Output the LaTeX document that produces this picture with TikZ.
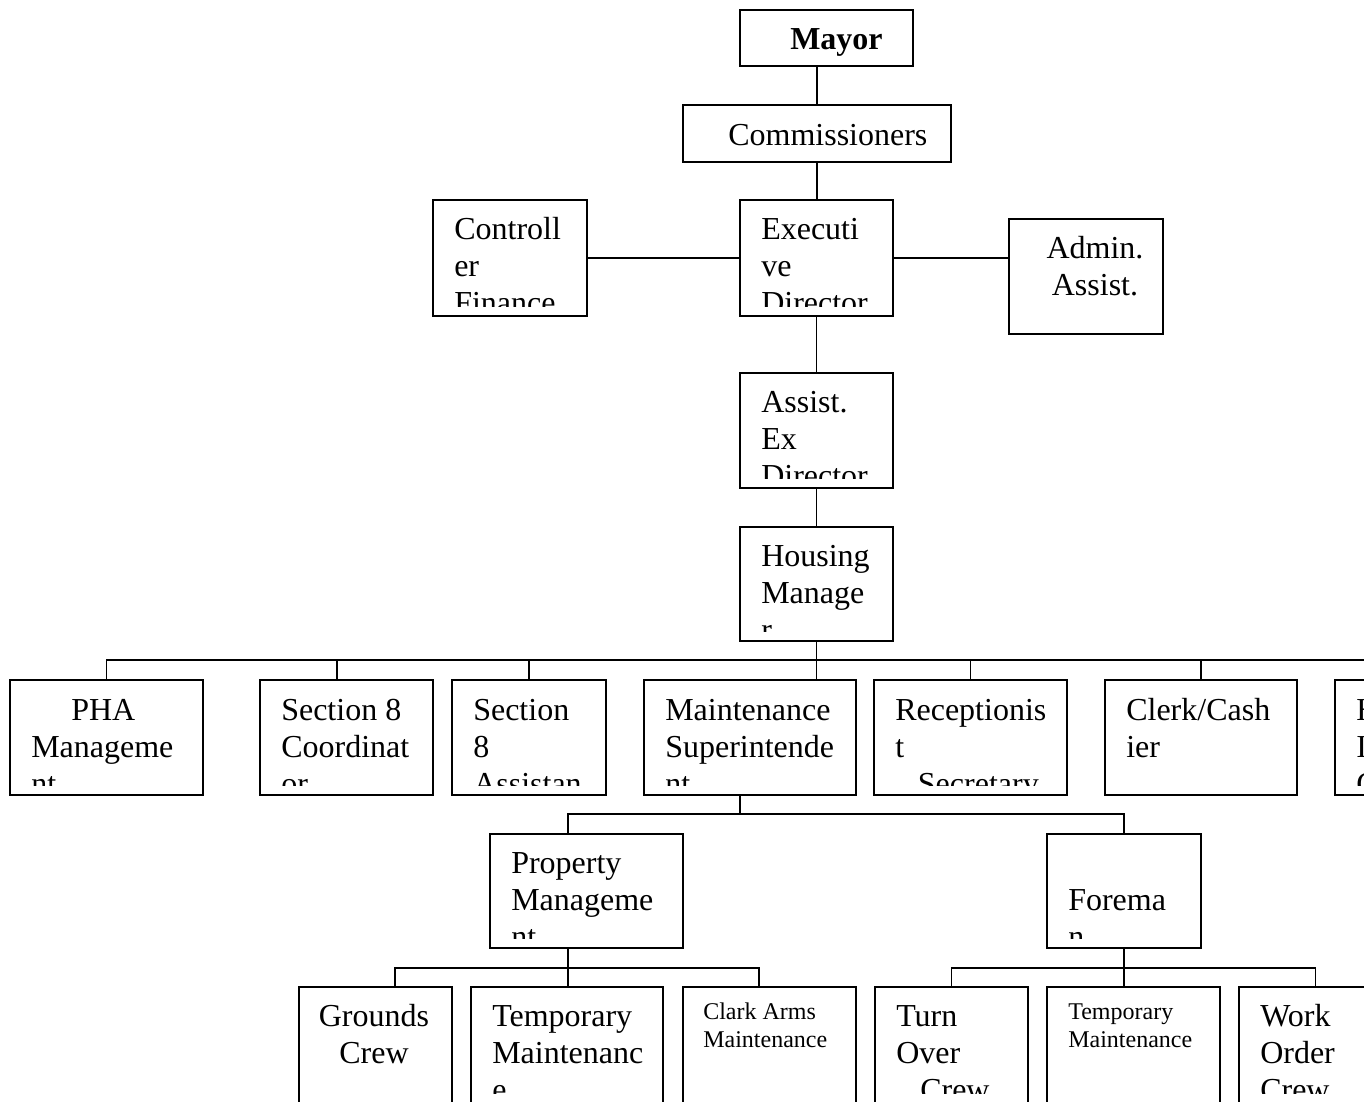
\documentclass[tikz,border=0pt]{standalone}
\usepackage{fontspec}
\setmainfont{Liberation Serif}
\begin{document}
\begin{tikzpicture}[x=0.75pt,y=-0.75pt,
		card/.style={draw,line width=1.2pt,inner sep=0pt,outer sep=0pt},
		link/.style={line width=1.2pt}]
		\newcommand{\orgfontbig}{\fontsize{24}{27.75}\selectfont}
		\newcommand{\orgfontsmall}{\fontsize{18}{21}\selectfont}
		\newcommand{\lefttext}[1]{\begin{tabular}[t]{@{}l@{}}#1\end{tabular}}
		\newcommand{\midtext}[1]{\begin{tabular}[t]{@{}c@{}}#1\end{tabular}}
		%box: name, x1, y1, x2, y2, text dx, baseline dy, text options, text
		\newcommand{\orgcard}[9]{
			\node [card,minimum width={(#4-#2)*0.75pt},minimum height={(#5-#3)*0.75pt}] (#1) at ({(#2+#4)/2},{(#3+#5)/2}) {};
			\begin{scope}
				\clip ({#2+10},{#3+9}) rectangle ({#4-10},{#5-10});
				\node [inner sep=0pt,anchor=base west,font=\orgfontbig,#8] at ({#2+#6},{#3+#7}) {#9};
			\end{scope}
		}
		%Page
		\useasboundingbox (0,0) rectangle (1364,1101);
		\clip (0,0) rectangle (1364,1101);
		%Top of the chart
		\orgcard{mayor}{740}{10}{913}{66}{50}{39}{}{\textbf{Mayor}}
		\orgcard{comm}{683}{105}{951}{162}{45}{40}{}{Commissioners}
		\orgcard{ctrl}{433}{200}{587}{316}{21}{39}{}{\lefttext{Controll\\er\\Finance}}
		\orgcard{exec}{740}{200}{893}{316}{21}{39}{}{\lefttext{Executi\\ve\\Director}}
		\orgcard{admin}{1009}{219}{1163}{334}{86}{39}{anchor=base}{\midtext{Admin.\\Assist.}}
		\orgcard{aed}{740}{373}{893}{488}{21}{39}{}{\lefttext{Assist.\\Ex\\Director}}
		\orgcard{hman}{740}{527}{893}{641}{21}{39}{}{\lefttext{Housing\\Manage\\r}}
		%Staff row
		\orgcard{pha}{10}{680}{203}{795}{21}{40}{}{\lefttext{\hspace*{30pt}PHA\\Manageme\\nt}}
		\orgcard{scoord}{260}{680}{433}{795}{21}{40}{}{\lefttext{Section 8\\Coordinat\\or}}
		\orgcard{sassist}{452}{680}{606}{795}{21}{40}{}{\lefttext{Section\\8\\Assistan}}
		\orgcard{msup}{644}{680}{856}{795}{21}{40}{}{\lefttext{Maintenance\\Superintende\\nt}}
		\orgcard{recep}{874}{680}{1067}{795}{21}{40}{}{\lefttext{Receptionis\\t\\\hspace*{17pt}Secretary}}
		\orgcard{clerk}{1105}{680}{1297}{795}{21}{40}{}{\lefttext{Clerk/Cash\\ier}}
		\orgcard{hinsp}{1335}{680}{1528}{795}{21}{40}{}{\lefttext{H\\I\\C}}
		%Maintenance row
		\orgcard{pmgmt}{490}{834}{683}{948}{21}{39}{}{\lefttext{Property\\Manageme\\nt}}
		\orgcard{foreman}{1047}{834}{1201}{948}{21}{39}{}{\lefttext{\\Forema\\n}}
		%Crews
		\orgcard{grounds}{299}{987}{452}{1103}{75}{39}{anchor=base}{\midtext{Grounds\\Crew}}
		\orgcard{tmaint}{471}{987}{663}{1103}{21}{39}{}{\lefttext{Temporary\\Maintenanc\\e}}
		\orgcard{clark}{683}{987}{856}{1103}{20}{32}{font=\orgfontsmall}{\lefttext{Clark Arms\\Maintenance}}
		\orgcard{turnover}{875}{987}{1028}{1103}{21}{39}{}{\lefttext{Turn\\Over\\\hspace*{18pt}Crew}}
		\orgcard{tmaint2}{1047}{987}{1220}{1103}{21}{32}{font=\orgfontsmall}{\lefttext{Temporary\\Maintenance}}
		\orgcard{workorder}{1239}{987}{1392}{1103}{21}{39}{}{\lefttext{Work\\Order\\Crew}}
		%Top chain
		\draw [link] (mayor.south -| comm.north) -- (comm.north);
		\draw [link] (comm.south) -- (comm.south |- exec.north);
		\draw [link] (ctrl.east) -- (exec.west);
		\draw [link] (exec.east) -- (exec.east -| admin.west);
		\draw [link] (exec.south) -- (aed.north);
		\draw [link] (aed.south) -- (hman.north);
		%Staff under the housing manager
		\foreach \kid in {pha,sassist,recep,clerk,hinsp}
			\draw [link] (hman.south) -- ++(0,19) -| (\kid.north);
		\draw [link] (hman.south) -- ++(0,19) -| ([xshift=-7.1pt]scoord.north);
		\draw [link] (hman.south) -- (hman.south |- msup.north);
		%Maintenance branch
		\coordinate (msupOut) at ([xshift=-7.5pt]msup.south);
		\draw [link] (msupOut) -- ++(0,19) -| ([xshift=-13.9pt]pmgmt.north);
		\draw [link] (msupOut) -- ++(0,19) -| (foreman.north);
		%Crews under property management and foreman
		\coordinate (pmgmtOut) at ([xshift=-13.9pt]pmgmt.south);
		\foreach \kid/\dx in {grounds/14.6pt,tmaint/0.7pt,clark/-7.9pt}
			\draw [link] (pmgmtOut) -- ++(0,20) -| ([xshift=\dx]\kid.north);
		\foreach \kid/\dx in {turnover/0pt,tmaint2/-7.1pt,workorder/0pt}
			\draw [link] (foreman.south) -- ++(0,20) -| ([xshift=\dx]\kid.north);
\end{tikzpicture}
\end{document}
